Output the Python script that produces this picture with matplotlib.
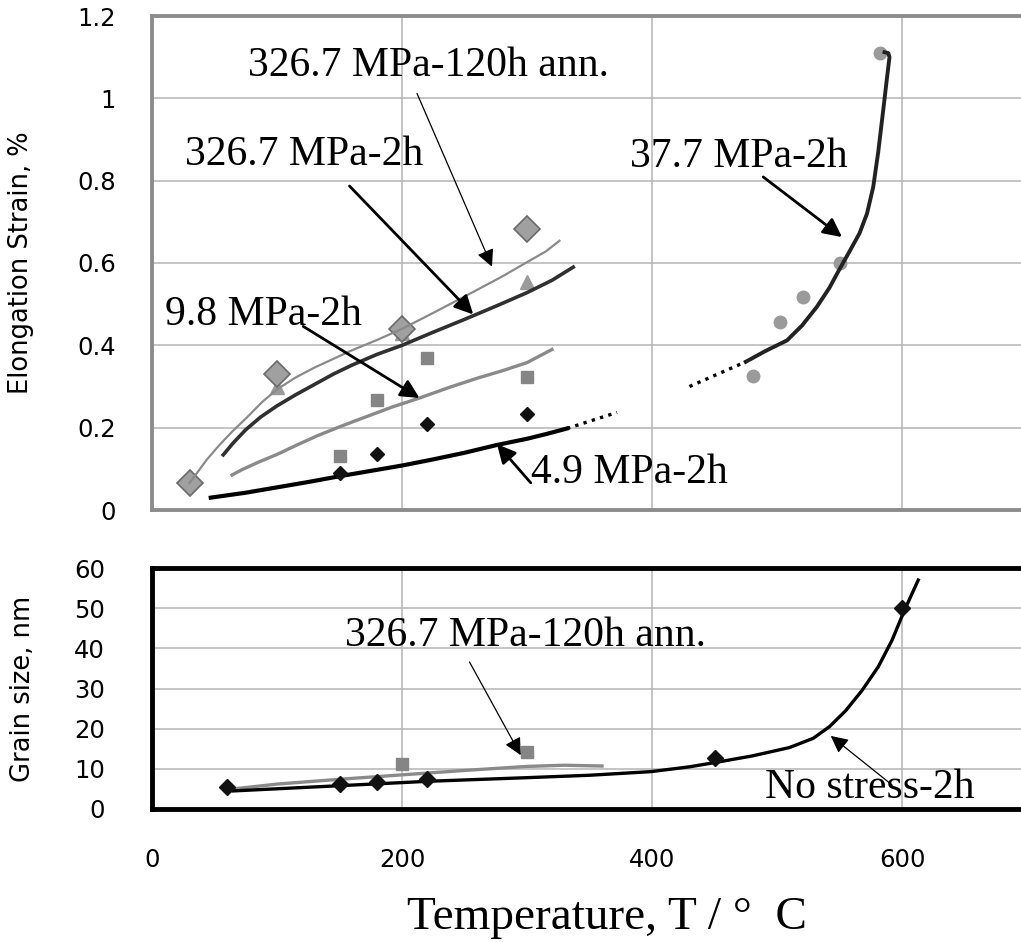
import matplotlib
matplotlib.use("Agg")
import matplotlib.pyplot as plt

# ---------------- data (top panel: elongation strain, %) ----------------
t_ann120_pts = [30, 100, 200, 300]
e_ann120_pts = [0.066, 0.33, 0.44, 0.683]
t_ann120_line = [30, 36, 44, 54, 64, 76, 88, 100, 115, 130, 145, 160, 180, 200, 227, 254, 280, 300, 315, 326]
e_ann120_line = [0.066, 0.09, 0.123, 0.158, 0.19, 0.225, 0.262, 0.293, 0.322, 0.346, 0.367, 0.388, 0.413, 0.44, 0.482, 0.525, 0.567, 0.602, 0.628, 0.654]

t_327_pts = [100, 200, 300]
e_327_pts = [0.30, 0.43, 0.555]
t_327_line = [57, 65, 75, 87, 100, 115, 130, 145, 160, 180, 200, 225, 250, 275, 300, 320, 337]
e_327_line = [0.134, 0.163, 0.195, 0.226, 0.253, 0.28, 0.305, 0.33, 0.352, 0.378, 0.40, 0.432, 0.463, 0.495, 0.528, 0.558, 0.59]

t_98_pts = [150, 180, 220, 300]
e_98_pts = [0.13, 0.267, 0.37, 0.323]
t_98_line = [64, 72, 85, 100, 116, 132, 150, 170, 192, 214, 237, 260, 280, 300, 320]
e_98_line = [0.085, 0.098, 0.116, 0.135, 0.158, 0.18, 0.202, 0.225, 0.25, 0.272, 0.297, 0.32, 0.338, 0.358, 0.39]

t_49_pts = [150, 180, 220, 300]
e_49_pts = [0.09, 0.135, 0.21, 0.232]
t_49_line = [47, 75, 100, 125, 150, 175, 200, 225, 250, 276, 300, 316, 332]
e_49_line = [0.03, 0.042, 0.055, 0.068, 0.082, 0.095, 0.108, 0.123, 0.139, 0.158, 0.173, 0.185, 0.198]
t_49_ext = [332, 372]
e_49_ext = [0.198, 0.237]

t_377_pts = [481, 502, 521, 550, 582]
e_377_pts = [0.325, 0.457, 0.517, 0.60, 1.11]
t_377_line = [475, 490, 508, 520, 532, 542, 550, 558, 566, 572, 577, 581, 585, 588, 590, 589, 586]
e_377_line = [0.36, 0.385, 0.412, 0.448, 0.494, 0.54, 0.585, 0.628, 0.672, 0.72, 0.785, 0.87, 0.972, 1.05, 1.10, 1.11, 1.112]
t_377_ext = [430, 475]
e_377_ext = [0.30, 0.36]

# ---------------- data (bottom panel: grain size, nm) ----------------
t_ns_pts = [60, 150, 180, 220, 450, 600]
g_ns_pts = [5.6, 6.3, 6.8, 7.4, 12.7, 50]
t_ns_line = [65, 150, 221, 300, 350, 399, 430, 451, 480, 510, 529, 542, 555, 568, 581, 592, 602, 613]
g_ns_line = [4.5, 5.8, 6.9, 7.8, 8.4, 9.3, 10.5, 11.6, 13.2, 15.3, 17.6, 20.5, 24.5, 29.5, 35.4, 42.0, 49.5, 57.0]

t_gann_pts = [200, 300]
g_gann_pts = [11.2, 14.3]
t_gann_line = [65, 100, 150, 200, 250, 300, 330, 360]
g_gann_line = [5.0, 6.2, 7.4, 8.5, 9.6, 10.6, 10.9, 10.7]

x_ticks = [0, 200, 400, 600]
x_ticklabels = ["0", "200", "400", "600"]
top_yticks = [0, 0.2, 0.4, 0.6, 0.8, 1.0, 1.2]
top_yticklabels = ["0", "0.2", "0.4", "0.6", "0.8", "1", "1.2"]
bot_yticks = [0, 10, 20, 30, 40, 50, 60]
bot_yticklabels = ["0", "10", "20", "30", "40", "50", "60"]

# ---------------- figure ----------------
W, H = 1021, 942
fig = plt.figure(figsize=(W / 100, H / 100), dpi=100)

def fx(px):
    return px / W

def fy(py):
    return 1 - py / H

ax_left = fx(152)
ax_w = fx(1027) - fx(152)
ax1 = fig.add_axes([ax_left, fy(510), ax_w, fy(16) - fy(510)])
ax2 = fig.add_axes([ax_left, fy(809), ax_w, fy(568) - fy(809)])

serif = "Liberation Serif"
tick_font = dict(family="DejaVu Sans", size=17.5)
ann_size = 30

for ax in (ax1, ax2):
    ax.set_xlim(0, 700)
    ax.set_xticks(x_ticks)
    ax.grid(True, color="#b4b4b4", lw=1.1)
    ax.set_axisbelow(True)
    ax.tick_params(length=0)

def ax_x(px):
    return (px - 152) / 875.0

# top panel
ax1.set_ylim(0, 1.2)
ax1.set_yticks(top_yticks)
ax1.set_yticklabels(top_yticklabels, **tick_font)
ax1.tick_params(axis="y", pad=26)
ax1.set_xticklabels([])
for s in ax1.spines.values():
    s.set_color("#8c8c8c")
    s.set_linewidth(2.8)

ax1.plot(t_ann120_line, e_ann120_line, color="#8a8a8a", lw=1.6, zorder=3)
ax1.plot(t_327_line, e_327_line, color="#303030", lw=2.6, zorder=3)
ax1.plot(t_98_line, e_98_line, color="#8a8a8a", lw=2.4, zorder=3)
ax1.plot(t_49_line, e_49_line, color="black", lw=3.0, zorder=3)
ax1.plot(t_49_ext, e_49_ext, color="black", lw=2.4, ls=(0, (1, 1.6)), zorder=3)
ax1.plot(t_377_line, e_377_line, color="#222222", lw=2.8, zorder=3)
ax1.plot(t_377_ext, e_377_ext, color="black", lw=2.4, ls=(0, (1, 1.6)), zorder=3)

ax1.plot(t_327_pts, e_327_pts, ls="none", marker="^", ms=10, color="#9a9a9a", zorder=2)
ax1.plot(t_ann120_pts, e_ann120_pts, ls="none", marker="D", ms=13, mfc="#a0a0a0",
         mec="#6a6a6a", mew=1.2, zorder=2)
ax1.plot(t_98_pts, e_98_pts, ls="none", marker="s", ms=9, color="#858585", zorder=4)
ax1.plot(t_49_pts, e_49_pts, ls="none", marker="D", ms=7.5, color="#111111", zorder=4)
ax1.plot(t_377_pts, e_377_pts, ls="none", marker="o", ms=9, color="#9a9a9a", zorder=2)

thick = dict(arrowstyle="-|>", color="black", lw=2.0, mutation_scale=28, shrinkA=0, shrinkB=0)
thin = dict(arrowstyle="-|>", color="black", lw=0.9, mutation_scale=26, shrinkA=0, shrinkB=0)

ax1.text(77, 1.054, "326.7 MPa-120h ann.", family=serif, size=ann_size, va="baseline")
ax1.annotate("", xy=(272, 0.591), xytext=(212, 1.012), arrowprops=thin)
ax1.text(26, 0.838, "326.7 MPa-2h", family=serif, size=ann_size, va="baseline")
ax1.annotate("", xy=(257, 0.475), xytext=(158, 0.787), arrowprops=thick)
ax1.text(10, 0.449, "9.8 MPa-2h", family=serif, size=ann_size, va="baseline")
ax1.annotate("", xy=(214, 0.272), xytext=(121, 0.446), arrowprops=thick)
ax1.text(303, 0.066, "4.9 MPa-2h", family=serif, size=ann_size, va="baseline")
ax1.annotate("", xy=(276, 0.160), xytext=(303, 0.066), arrowprops=thick)
ax1.text(382, 0.833, "37.7 MPa-2h", family=serif, size=ann_size, va="baseline")
ax1.annotate("", xy=(552, 0.663), xytext=(489, 0.809), arrowprops=thick)

ax1.set_ylabel("Elongation Strain, %", family="DejaVu Sans", size=18.5)
ax1.yaxis.set_label_coords(ax_x(34), 0.5)

# bottom panel
ax2.set_ylim(0, 60)
ax2.set_yticks(bot_yticks)
ax2.set_yticklabels(bot_yticklabels, **tick_font)
ax2.tick_params(axis="y", pad=34)
ax2.set_xticklabels(x_ticklabels, **tick_font)
ax2.tick_params(axis="x", pad=28)
for s in ax2.spines.values():
    s.set_color("black")
    s.set_linewidth(3.5)

ax2.plot(t_gann_line, g_gann_line, color="#8a8a8a", lw=2.4, zorder=3)
ax2.plot(t_ns_line, g_ns_line, color="black", lw=2.4, zorder=3)
ax2.plot(t_gann_pts, g_gann_pts, ls="none", marker="s", ms=9, color="#858585", zorder=2)
ax2.plot(t_ns_pts, g_ns_pts, ls="none", marker="D", ms=8, color="#111111", zorder=4)

ax2.text(154, 40.5, "326.7 MPa-120h ann.", family=serif, size=ann_size, va="baseline")
ax2.annotate("", xy=(295, 13.4), xytext=(254, 36.6), arrowprops=thin)
ax2.text(490, 2.7, "No stress-2h", family=serif, size=ann_size, va="baseline")
ax2.annotate("", xy=(543, 18.2), xytext=(592, 6.0), arrowprops=thin)

ax2.set_ylabel("Grain size, nm", family="DejaVu Sans", size=18.5)
ax2.yaxis.set_label_coords(ax_x(36), 0.5)

fig.text(fx(607), fy(918), "Temperature, T / \u00b0  C", family=serif, size=34,
         ha="center", va="center")

fig.savefig("out.png", dpi=100)
